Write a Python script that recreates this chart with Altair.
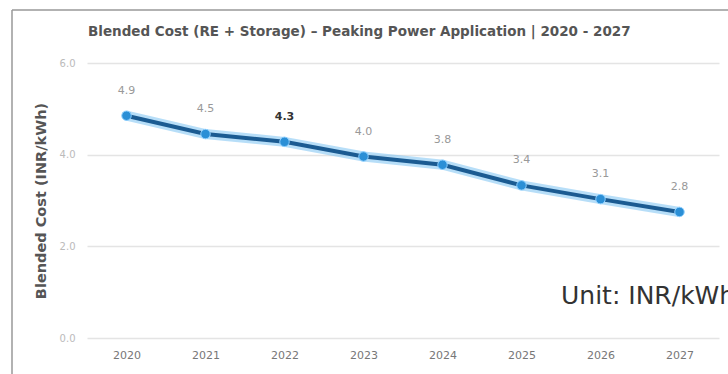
import altair as alt
import pandas as pd

years = ["2020", "2021", "2022", "2023", "2024", "2025", "2026", "2027"]
costs = [4.85, 4.45, 4.28, 3.96, 3.78, 3.33, 3.03, 2.75]
labels = ["4.9", "4.5", "4.3", "4.0", "3.8", "3.4", "3.1", "2.8"]
highlight = [False, False, True, False, False, False, False, False]
y_ticks = [0, 2, 4, 6]
title_text = "Blended Cost (RE + Storage) \u2013 Peaking Power Application | 2020 - 2027"
unit_text = "Unit: INR/kWh"

df = pd.DataFrame({"year": years, "cost": costs, "label": labels, "hl": highlight})

W, H = 632, 275
FONT = "DejaVu Sans"

x = alt.X("year:O", scale=alt.Scale(type="point", padding=0.5),
          axis=alt.Axis(title=None, labelAngle=0, labelColor="#777", labelFontSize=11,
                        labelFont=FONT, labelPadding=11, ticks=False, domain=False, grid=False))
y = alt.Y("cost:Q", scale=alt.Scale(domain=[0, 6]),
          axis=alt.Axis(title="Blended Cost (INR/kWh)", values=y_ticks, format=".1f",
                        labelColor="#bbb", labelFontSize=10, labelFont=FONT, labelPadding=12,
                        titleFont=FONT, titleFontSize=14.5, titleFontWeight="bold",
                        titleColor="#555", titlePadding=11,
                        ticks=False, domain=False, grid=True, gridColor="#e4e4e4",
                        gridWidth=1.5))

base = alt.Chart(df)

glow = base.mark_line(color="#7cc3f2", strokeWidth=10, opacity=0.55).encode(x=x, y=y)
line = base.mark_line(color="#1b5b92", strokeWidth=4).encode(x=x, y=y)
pts = base.mark_circle(size=90, color="#2b8fd6", opacity=1, stroke="#8fd0ff", strokeWidth=1).encode(x=x, y=y)
txt = base.mark_text(dy=-25, fontSize=11, font=FONT, color="#999").encode(
    x=x, y=y, text="label:N").transform_filter("!datum.hl")
txt_hl = base.mark_text(dy=-25, fontSize=11, font=FONT, color="#333", fontWeight="bold").encode(
    x=x, y=y, text="label:N").transform_filter("datum.hl")

ttl = alt.Chart(pd.DataFrame({"t": [title_text]})).mark_text(
    align="left", baseline="middle", fontSize=13.5, font=FONT, fontWeight="bold", color="#555"
).encode(x=alt.value(1), y=alt.value(-31), text="t:N")

unit = alt.Chart(pd.DataFrame({"t": [unit_text]})).mark_text(
    align="left", baseline="middle", fontSize=25, font=FONT, color="#333"
).encode(x=alt.value(474), y=alt.value(233), text="t:N")

frame_top = alt.Chart(pd.DataFrame({"a": [1]})).mark_rule(color="#999", strokeWidth=1.5).encode(
    x=alt.value(-75), x2=alt.value(W + 20), y=alt.value(-53))
frame_left = alt.Chart(pd.DataFrame({"a": [1]})).mark_rule(color="#999", strokeWidth=1.5).encode(
    x=alt.value(-75), y=alt.value(-53), y2=alt.value(H + 40))

chart = alt.layer(glow, line, pts, txt, txt_hl, ttl, unit, frame_top, frame_left).properties(
    width=W, height=H,
    autosize=alt.AutoSizeParams(type="none"),
    padding={"left": 87, "top": 63, "right": 9, "bottom": 36},
    background="white",
).configure_view(stroke=None)

chart.save("out.html", embed_options={"renderer": "svg", "actions": False})
